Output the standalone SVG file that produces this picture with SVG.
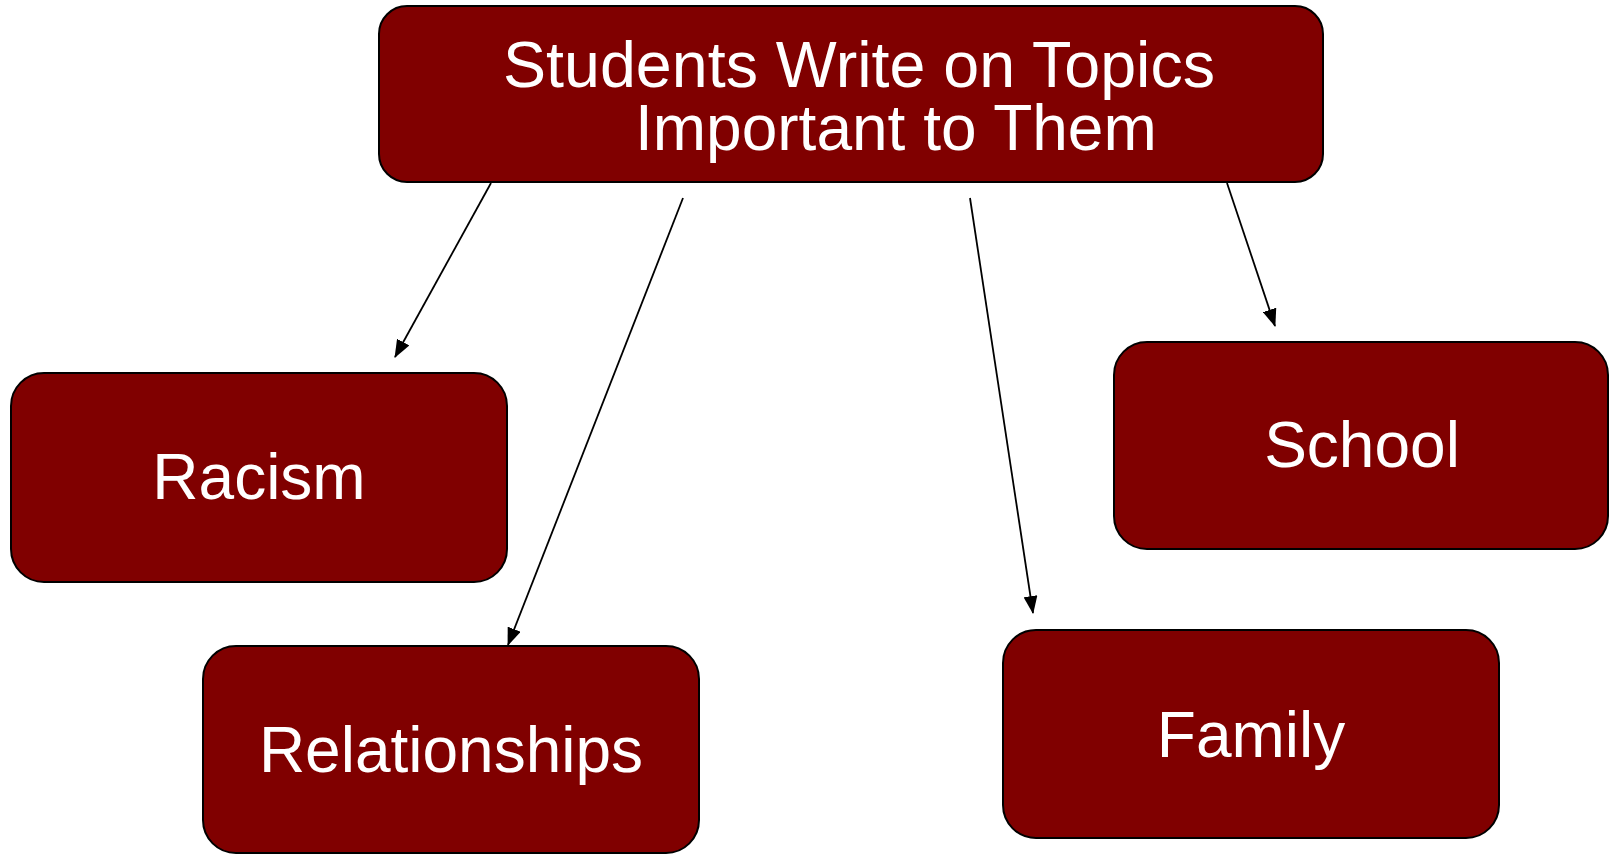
<svg xmlns="http://www.w3.org/2000/svg" width="1610" height="855" viewBox="0 0 1610 855">
<style>
.box{fill:#800000;stroke:#000;stroke-width:2}
.lbl{fill:#fff;font-family:"Liberation Sans",Arial,sans-serif;font-size:64px}
.edge{stroke:#000;stroke-width:1.8;fill:none;marker-end:url(#arr)}
</style>
<defs>
<marker id="arr" viewBox="0 0 18 14" refX="17" refY="7" markerWidth="18" markerHeight="14" markerUnits="userSpaceOnUse" orient="auto">
<path d="M0,0 L18,7 L0,14 z" fill="#000"/>
</marker>
</defs>
<rect width="1610" height="855" fill="#fff"/>
<g id="connectors">
<line class="edge" x1="491" y1="183" x2="395" y2="357"/>
<line class="edge" x1="683" y1="198" x2="508" y2="645"/>
<line class="edge" x1="970" y1="198" x2="1033" y2="613"/>
<line class="edge" x1="1227" y1="183" x2="1275" y2="326"/>
</g>
<g id="node-title">
<rect class="box" x="379" y="6" width="944" height="176" rx="28"/>
<text class="lbl" x="503" y="87" textLength="712" lengthAdjust="spacingAndGlyphs">Students Write on Topics</text>
<text class="lbl" x="635" y="150">Important to Them</text>
</g>
<g id="node-racism">
<rect class="box" x="11" y="373" width="496" height="209" rx="33"/>
<text class="lbl" x="259" y="499" text-anchor="middle">Racism</text>
</g>
<g id="node-relationships">
<rect class="box" x="203" y="646" width="496" height="207" rx="33"/>
<text class="lbl" x="451" y="772" text-anchor="middle">Relationships</text>
</g>
<g id="node-school">
<rect class="box" x="1114" y="342" width="494" height="207" rx="33"/>
<text class="lbl" x="1362" y="467" text-anchor="middle">School</text>
</g>
<g id="node-family">
<rect class="box" x="1003" y="630" width="496" height="208" rx="33"/>
<text class="lbl" x="1251" y="757" text-anchor="middle">Family</text>
</g>
</svg>
